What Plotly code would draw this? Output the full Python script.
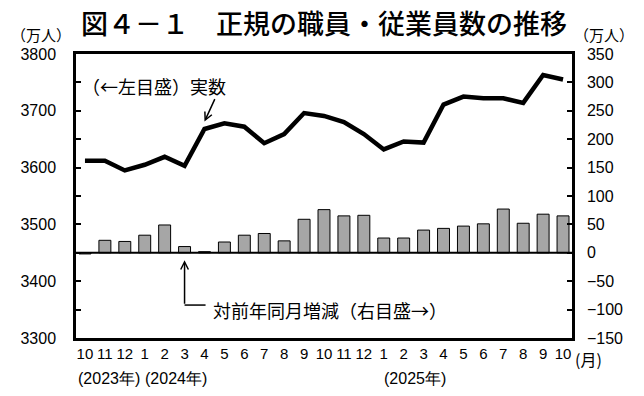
import plotly.graph_objects as go

months = ["10", "11", "12", "1", "2", "3", "4", "5", "6", "7", "8", "9",
          "10", "11", "12", "1", "2", "3", "4", "5", "6", "7", "8", "9", "10"]
actual = [3612, 3612, 3595, 3605, 3619, 3603, 3668, 3678, 3672, 3643, 3659, 3696,
          3691, 3680, 3659, 3632, 3646, 3644, 3711, 3725, 3722, 3722, 3714, 3763, 3755]
change = [-2, 22, 20, 31, 49, 11, 2, 19, 31, 34, 21, 59,
          76, 65, 66, 26, 26, 40, 43, 47, 51, 77, 52, 68, 65]
year_labels = ["(2023年)", "(2024年)", "(2025年)"]
year_pos = [0, 3, 15]

x = list(range(len(months)))
TF = "Liberation Sans Narrow, Liberation Sans, Arial, sans-serif"
JF = "Noto Sans CJK JP, sans-serif"

fig = go.Figure()
fig.add_trace(go.Bar(x=x, y=change, yaxis="y2", width=0.6,
                     marker=dict(color="#a6a6a6", line=dict(color="black", width=1)),
                     showlegend=False))
fig.add_trace(go.Scatter(x=x, y=actual, mode="lines", yaxis="y",
                         line=dict(color="black", width=4.5), showlegend=False))

fig.update_layout(
    width=644, height=396,
    margin=dict(l=61, r=80, t=46, b=66),
    paper_bgcolor="white", plot_bgcolor="white",
    xaxis=dict(range=[-0.45, 24.45], tickvals=x, ticktext=months, ticks="",
               showline=True, linecolor="black", linewidth=2.5, mirror=True,
               showgrid=False, zeroline=False,
               tickfont=dict(family=TF, size=15, color="black")),
    yaxis=dict(range=[3300, 3800], dtick=100, ticks="inside", ticklen=5, tickwidth=2,
               tickcolor="black", showline=True, linecolor="black", linewidth=2.5,
               showgrid=False, zeroline=False, ticklabelstandoff=14,
               minor=dict(ticks="inside", dtick=50, ticklen=5, tickwidth=2, tickcolor="black"),
               tickfont=dict(family=TF, size=16, color="black")),
    yaxis2=dict(range=[-150, 350], dtick=50, overlaying="y", side="right",
                ticks="inside", ticklen=5, tickwidth=2, tickcolor="black",
                showline=True, linecolor="black", linewidth=2.5,
                showgrid=False, zeroline=False, ticklabelstandoff=9,
                tickfont=dict(family=TF, size=16, color="black")),
    bargap=0.4,
)

# zero line of the right axis
fig.add_shape(type="line", xref="paper", x0=0, x1=1, yref="y2", y0=0, y1=0,
              line=dict(color="black", width=2))

anns = []
anns.append(dict(text="図４－１　正規の職員・従業員数の推移", xref="paper", yref="paper",
                 x=0.5, y=1.0, yshift=32, showarrow=False, xanchor="center", yanchor="middle",
                 font=dict(family=JF, size=27, color="black", weight=500)))
anns.append(dict(text="（万人）", xref="paper", yref="paper", x=0, y=1, xshift=-35, yshift=20,
                 showarrow=False, xanchor="center", yanchor="middle",
                 font=dict(family=JF, size=15, color="black")))
anns.append(dict(text="（万人）", xref="paper", yref="paper", x=1, y=1, xshift=32, yshift=20,
                 showarrow=False, xanchor="center", yanchor="middle",
                 font=dict(family=JF, size=15, color="black")))
anns.append(dict(text="(月)", xref="paper", yref="paper", x=1, y=0, xshift=16, yshift=-21,
                 showarrow=False, xanchor="center", yanchor="middle",
                 font=dict(family=JF, size=16, color="black")))
for lab, p, sh in zip(year_labels, year_pos, [-9, -2, -2]):
    anns.append(dict(text=lab, xref="x", yref="paper", x=p, y=0, xshift=sh, yshift=-40,
                     showarrow=False, xanchor="left", yanchor="middle",
                     font=dict(family=TF, size=16, color="black")))
anns.append(dict(text="（←左目盛）実数", xref="x", yref="y", x=0, y=3800, xshift=-5,
                 yshift=-32, showarrow=False, xanchor="left", yanchor="middle",
                 font=dict(family=JF, size=18, color="black")))
anns.append(dict(text="", xref="x", yref="y", x=6, y=3681, ax=11, ay=-24,
                 axref="pixel", ayref="pixel", showarrow=True, arrowhead=5,
                 arrowwidth=1.5, arrowsize=1, arrowcolor="black"))
anns.append(dict(text="対前年同月増減（右目盛→）", xref="x", yref="y2", x=6.5, y=-100,
                 showarrow=False, xanchor="left", yanchor="middle", xshift=-3,
                 font=dict(family=JF, size=18, color="black")))
anns.append(dict(text="", xref="x", yref="y2", x=5, y=-13, ax=0, ay=45,
                 axref="pixel", ayref="pixel", showarrow=True, arrowhead=5,
                 arrowwidth=1.5, arrowsize=1, arrowcolor="black"))
fig.update_layout(annotations=anns)
fig.add_shape(type="line", xref="x", yref="y2", xsizemode="pixel", xanchor=5,
              x0=0, x1=21, y0=-92, y1=-92, line=dict(color="black", width=1.5))

fig.write_html("out.html")
